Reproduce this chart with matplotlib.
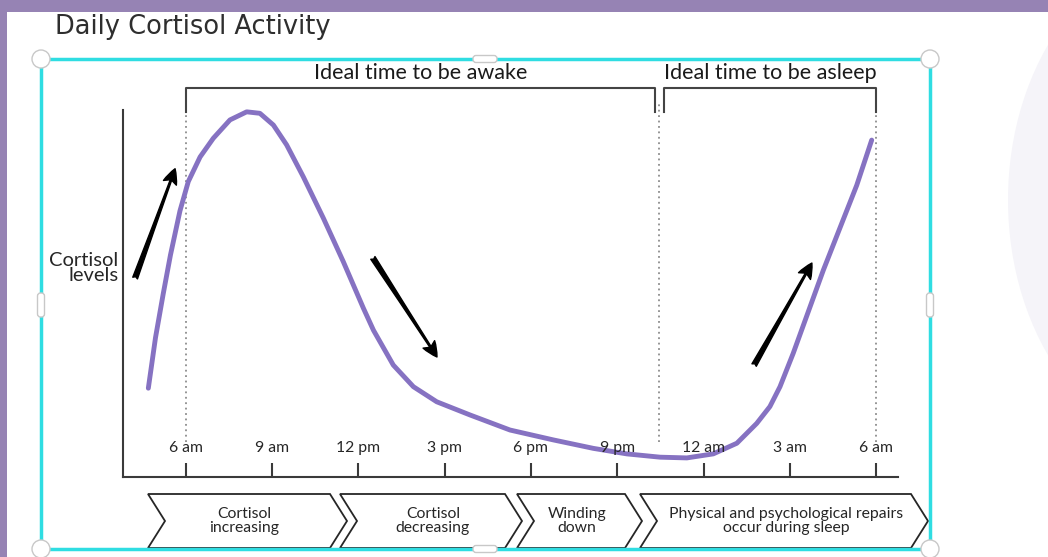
import matplotlib.pyplot as plt
from matplotlib.patches import Rectangle, Circle, Ellipse, Polygon, FancyBboxPatch

# curve: hours after 6 am vs. relative cortisol level
hours = [-1.31, -1.06, -0.79, -0.54, -0.21, 0.08, 0.49, 0.95, 1.53, 2.11,
         2.57, 3.04, 3.50, 4.08, 4.78, 5.47, 6.17, 6.52, 7.21, 7.91, 8.72,
         9.88, 11.27, 12.78, 14.17, 15.33, 16.49, 17.42, 18.34, 19.16, 19.85,
         20.31, 20.66, 21.12, 22.17, 23.33, 23.85]
level = [2.42, 3.80, 5.00, 6.05, 7.25, 8.05, 8.72, 9.23, 9.73, 9.95,
         9.91, 9.59, 9.05, 8.18, 7.05, 5.87, 4.60, 4.00, 3.05, 2.46, 2.05,
         1.69, 1.28, 1.01, 0.78, 0.63, 0.54, 0.52, 0.63, 0.92, 1.46,
         1.92, 2.46, 3.37, 5.64, 7.95, 9.18]

tick_hours = [0, 3, 6, 9, 12, 15, 18, 21, 24]
tick_labels = ['6 am', '9 am', '12 pm', '3 pm', '6 pm', '9 pm', '12 am', '3 am', '6 am']

awake_span = (0, 16.3)
asleep_span = (16.63, 24)
bedtime = 16.45

phases = ['Cortisol\nincreasing', 'Cortisol\ndecreasing', 'Winding\ndown',
          'Physical and psychological repairs\noccur during sleep']

dark = '#262626'
purple = '#8672c2'
font = 'Lato'

fig = plt.figure(figsize=(10.48, 5.57), dpi=100)

# page layer in pixel units
bg = fig.add_axes([0, 0, 1, 1])
bg.set_xlim(0, 1048)
bg.set_ylim(557, 0)
bg.axis('off')
bg.add_patch(Ellipse((1200, 200), 384, 508, color='#f5f4f9', lw=0))
bg.add_patch(Rectangle((0, 0), 1048, 12, color='#9683b4', lw=0))
bg.add_patch(Rectangle((0, 0), 7, 557, color='#9683b4', lw=0))
bg.text(55, 27, 'Daily Cortisol Activity', fontsize=18.5, family='DejaVu Sans',
        color='#2e2e2e', va='center')

# phase chevrons
chev = [(148, 347), (340, 522), (517, 642), (640, 928)]
text_x = [244, 433, 577, 786]
y0, y1, d = 494, 548, 17
ym = (y0 + y1) / 2
for (x0, x1), tx, txt in zip(chev, text_x, phases):
    pts = [(x0, y0), (x1 - d, y0), (x1, ym), (x1 - d, y1), (x0, y1), (x0 + d, ym)]
    bg.add_patch(Polygon(pts, closed=True, fc='white', ec=dark, lw=1.3))
    bg.text(tx, ym, txt, ha='center', va='center', fontsize=11.3,
            family=font, color=dark, linespacing=0.95)

# selection frame
bg.add_patch(Rectangle((41, 59), 889, 490, fill=False, ec='#2fdde2', lw=2.5))
for cx, cy in [(41, 59), (930, 59), (41, 549), (930, 549)]:
    bg.add_patch(Circle((cx, cy), 9, fc='white', ec='#c8c8c8', lw=1, zorder=5))
for cx, cy, w, h in [(485, 59, 24, 7), (485, 549, 24, 7), (41, 305, 7, 24), (930, 305, 7, 24)]:
    bg.add_patch(FancyBboxPatch((cx - w / 2, cy - h / 2), w, h,
                                boxstyle='round,pad=0,rounding_size=3',
                                fc='white', ec='#c8c8c8', lw=1, zorder=5))

# chart
ax = fig.add_axes([123 / 1048, 1 - 477 / 557, 775 / 1048, 367 / 557])
ax.patch.set_alpha(0)
ax.set_xlim(-2.191, 24.765)
ax.set_ylim(0, 10)
for s in ['top', 'right']:
    ax.spines[s].set_visible(False)
for s in ['left', 'bottom']:
    ax.spines[s].set_color('#3a3a3a')
    ax.spines[s].set_linewidth(1.5)
ax.set_yticks([])
ax.set_xticks(tick_hours)
ax.tick_params(axis='x', direction='in', length=10, width=1.5, color='#3a3a3a',
               labelbottom=False)
for hx, lbl in zip(tick_hours, tick_labels):
    ax.text(hx, 0.8, lbl, ha='center', va='center', fontsize=11.3, family=font,
            color=dark)

ax.vlines([awake_span[0], bedtime, asleep_span[1]], 0.95, 10.15, colors='#8c8c8c',
          linestyles=(0, (1, 2)), lw=1.3, clip_on=False)

ax.plot(hours, level, color=purple, lw=3.5, solid_capstyle='round',
        solid_joinstyle='round', clip_on=False)

# brackets over the day and the night
for (a, b), lbl in [(awake_span, 'Ideal time to be awake'),
                    (asleep_span, 'Ideal time to be asleep')]:
    ax.plot([a, a, b, b], [9.95, 10.6, 10.6, 9.95], color='#444444', lw=1.5,
            clip_on=False)
    ax.text((a + b) / 2, 11.0, lbl, ha='center', va='center', fontsize=15.5,
            family=font, color='#1a1a1a')

ax.text(-2.35, 5.7, 'Cortisol\nlevels', ha='right', va='center', fontsize=14.5,
        family=font, color=dark, linespacing=0.9, clip_on=False)

# trend arrows
for tail, head in [((-1.77, 5.42), (-0.38, 8.40)),
                   ((6.50, 5.97), (8.73, 3.27)),
                   ((19.76, 3.05), (21.77, 5.83))]:
    ax.annotate('', xy=head, xytext=tail, annotation_clip=False,
                arrowprops=dict(arrowstyle='fancy,head_length=0.6,head_width=0.55,tail_width=0.2',
                                color='black', shrinkA=0, shrinkB=0, mutation_scale=18))

fig.savefig('out.png', dpi=100)
